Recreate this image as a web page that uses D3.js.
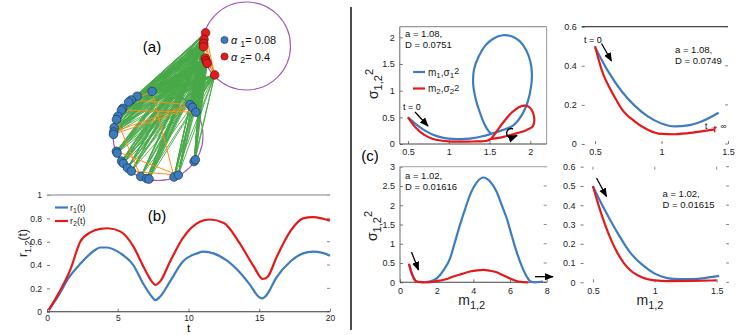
<!DOCTYPE html>
<html><head><meta charset="utf-8">
<script src="https://cdn.jsdelivr.net/npm/d3@7"></script>
<style>
body{margin:0;background:#fff;}
svg{display:block;font-family:"Liberation Sans",Arial,sans-serif;}
</style></head>
<body><svg id="c" width="747" height="335"></svg>
<script>
// ---------------- DATA ----------------
// (a) network: node angles (deg) on their circles
const blueAngles = [-97.7,-118,-127,-131.3,-142.4,-145.2,-154.4,-159,-169.8,-175.5,-178.5,159.2,156.6,144.9,141.3,133.3,126.8,112.8,104.7,101.7,68.9,62.8,35.8,33,-43.9,-39.2,-31.6];
const redAngles = [-162.2,-171.2,-176.5,179,163.5,159.7,156.2,137.7];
const orangeBlueEdges = [[0,20],[10,25],[5,26],[3,0],[7,17],[9,24],[11,21],[14,19],[16,21],[2,24],[6,1]];
const orangeRedEdges = [[0,7],[1,7],[2,7],[4,7],[3,6],[5,7]];
const legendA = ["0.08","0.4"];

// (b) order parameters
const tR1 = [0.12,0.82,1.53,2.35,3.3,3.76,4.2,5.2,6.1,6.8,7.4,7.65,8.0,8.7,9.6,10.6,11.06,11.76,12.7,13.6,14.35,14.94,15.2,15.5,16.2,17.2,18.1,18.8,19.4,20];
const r1 = [0.014,0.14,0.29,0.41,0.52,0.55,0.55,0.5,0.4,0.24,0.13,0.1,0.13,0.26,0.43,0.5,0.514,0.5,0.44,0.34,0.23,0.13,0.114,0.14,0.29,0.43,0.5,0.514,0.506,0.48];
const tR2 = [0.12,0.82,1.65,2.35,3.06,3.76,4.3,5.2,6.1,6.8,7.4,7.65,8.0,8.7,9.6,10.8,11.5,12.5,13.6,14.6,15.25,15.6,16.2,17.2,18.1,18.8,19.4,20];
const r2 = [0.014,0.157,0.36,0.6,0.68,0.71,0.715,0.686,0.56,0.39,0.26,0.23,0.26,0.43,0.63,0.77,0.79,0.76,0.59,0.39,0.28,0.3,0.46,0.69,0.8,0.81,0.8,0.78];
const bXTicks = [0,5,10,15,20];
const bYTicks = [0,0.2,0.4,0.6,0.8,1];

// (c1) a=1.08, D=0.0751
const c1m1 = [0.5,0.6,0.7,0.8,0.9,1.0,1.1,1.2,1.3,1.4,1.5,1.6,1.7,1.8,1.9,1.97,2.01,2.02,2.0,1.95,1.87,1.77,1.66,1.55,1.45,1.37,1.31,1.3,1.33,1.38,1.43,1.48,1.52];
const c1s1 = [0.5,0.37,0.26,0.18,0.13,0.1,0.09,0.095,0.11,0.14,0.18,0.23,0.28,0.36,0.55,0.8,1.08,1.32,1.55,1.76,1.93,2.02,2.04,1.98,1.85,1.65,1.4,1.12,0.85,0.6,0.4,0.26,0.19];
const c1m2 = [0.5,0.6,0.7,0.8,0.9,1.0,1.1,1.2,1.3,1.4,1.47,1.52,1.58,1.66,1.78,1.86,1.92,1.98,2.03,2.05,2.03,1.95,1.83,1.66,1.5];
const c1s2 = [0.5,0.3,0.17,0.1,0.065,0.05,0.045,0.045,0.047,0.05,0.06,0.1,0.22,0.39,0.6,0.69,0.72,0.7,0.6,0.45,0.33,0.26,0.2,0.13,0.09];
// (c2) a=1.08, D=0.0749
const c2m1 = [0.5,0.6,0.7,0.8,0.9,1.0,1.1,1.2,1.3,1.43];
const c2s1 = [0.495,0.37,0.27,0.195,0.14,0.105,0.09,0.095,0.115,0.16];
const c2m2 = [0.5,0.56,0.6,0.66,0.7,0.8,0.9,1.0,1.1,1.2,1.3,1.4];
const c2s2 = [0.5,0.36,0.3,0.225,0.18,0.115,0.072,0.052,0.05,0.056,0.065,0.075];
// (c3) a=1.02, D=0.01616
const c3m1 = [0.49,0.6,0.75,0.91,1.2,1.6,2.0,2.4,2.73,3.0,3.27,3.55,3.82,4.2,4.55,4.9,5.27,5.55,5.82,6.1,6.36,6.64,6.91,7.1,7.4,7.8];
const c3s1 = [0.475,0.3,0.12,0.02,0.0,0.02,0.1,0.33,0.62,1.05,1.49,1.9,2.27,2.6,2.72,2.62,2.35,2.0,1.66,1.2,0.79,0.42,0.15,0.03,0.0,0.02];
const c3m2 = [0.49,0.6,0.75,0.95,1.5,2.0,2.5,2.91,3.4,3.82,4.2,4.55,4.9,5.27,5.6,6.0,6.3,6.55,7.0];
const c3s2 = [0.48,0.28,0.1,0.01,0.0,0.03,0.08,0.15,0.22,0.28,0.31,0.32,0.3,0.26,0.19,0.1,0.04,0.01,0.0];
// (c4) a=1.02, D=0.01615
const c4m1 = [0.5,0.6,0.7,0.8,0.9,1.0,1.1,1.2,1.3,1.4,1.52];
const c4s1 = [0.496,0.37,0.255,0.155,0.09,0.045,0.022,0.016,0.017,0.022,0.033];
const c4m2 = [0.5,0.55,0.6,0.65,0.7,0.75,0.8,0.9,1.0,1.1,1.3,1.5];
const c4s2 = [0.5,0.39,0.295,0.215,0.15,0.1,0.064,0.025,0.01,0.006,0.007,0.01];

// ---------------- DRAW ----------------
const BLUE="#3b7dc0", RED="#e4191b", GREEN="#47a847", ORANGE="#ff8c1a", PURPLE="#a057b5";
const FONT="Liberation Sans, Arial, sans-serif";
const svg = d3.select("#c");
const defs = svg.append("defs");
defs.append("marker").attr("id","ah").attr("viewBox","0 0 10 10").attr("refX",9).attr("refY",5)
  .attr("markerWidth",7).attr("markerHeight",7).attr("orient","auto")
  .append("path").attr("d","M0,1 L10,5 L0,9 z").attr("fill","#000");

// separator
svg.append("line").attr("x1",351).attr("x2",351).attr("y1",7).attr("y2",330).attr("stroke","#000").attr("stroke-width",1.4);

// ---- (a) network ----
const lowC = {cx:158, cy:135.5, r:45};
const upC = {cx:246.5, cy:46, r:44};
const toRad = d3.scaleLinear().domain([0,180]).range([0,Math.PI]);
const pos = (c,a,dr) => [c.cx + (c.r+dr)*Math.cos(toRad(a)), c.cy + (c.r+dr)*Math.sin(toRad(a))];
const bluePts = blueAngles.map(a=>pos(lowC,a,-0.5));
const redPts = redAngles.map(a=>pos(upC,a,-1));
const ga = svg.append("g");
[lowC,upC].forEach(c=>ga.append("circle").attr("cx",c.cx).attr("cy",c.cy).attr("r",c.r)
  .attr("fill","none").attr("stroke",PURPLE).attr("stroke-width",1.1));
const greenEdges = d3.cross(redPts, bluePts);
ga.append("g").selectAll("line").data(greenEdges).join("line")
  .attr("x1",d=>d[0][0]).attr("y1",d=>d[0][1]).attr("x2",d=>d[1][0]).attr("y2",d=>d[1][1])
  .attr("stroke",GREEN).attr("stroke-width",0.9);
ga.append("g").selectAll("line").data(orangeBlueEdges.map(e=>[bluePts[e[0]],bluePts[e[1]]]).concat(orangeRedEdges.map(e=>[redPts[e[0]],redPts[e[1]]]))).join("line")
  .attr("x1",d=>d[0][0]).attr("y1",d=>d[0][1]).attr("x2",d=>d[1][0]).attr("y2",d=>d[1][1])
  .attr("stroke",ORANGE).attr("stroke-width",1);
ga.append("g").selectAll("circle").data(bluePts).join("circle")
  .attr("cx",d=>d[0]).attr("cy",d=>d[1]).attr("r",4.3).attr("fill","#3a7cbd").attr("stroke","#1d3550").attr("stroke-width",0.7);
ga.append("g").selectAll("circle").data(redPts).join("circle")
  .attr("cx",d=>d[0]).attr("cy",d=>d[1]).attr("r",4.3).attr("fill","#e3191c").attr("stroke","#5a1010").attr("stroke-width",0.7);
// legend (a)
legendA.forEach((v,i)=>{
  const y = 40 + i*16.5;
  ga.append("circle").attr("cx",224.5).attr("cy",y).attr("r",3.6).attr("fill",i?"#e3191c":"#3a7cbd").attr("stroke",i?"#5a1010":"#1d3550").attr("stroke-width",0.6);
  const t = ga.append("text").attr("x",231).attr("y",y+4).attr("font-size",11).attr("fill","#111");
  t.append("tspan").attr("font-style","italic").text("α");
  t.append("tspan").attr("dx",3).attr("dy",2.5).attr("font-size",9).text(i+1);
  t.append("tspan").attr("dy",-2.5).text("= "+v);
});
svg.append("text").attr("x",152).attr("y",52).attr("text-anchor","middle").attr("font-size",15).text("(a)");

// ---- generic axes helper ----
function ticks(g, opts){
  const {x,y,xt,yt,top,right,rightTicks,topTicks,leftLine,bottomLine,fs,pad} = opts;
  const [x0,x1] = x.range(), [y0,y1] = y.range();
  const ax = g.append("g").attr("transform",`translate(0,${y0})`).call(d3.axisBottom(x).tickValues(xt).tickSize(-3).tickPadding(pad||5).tickFormat(d=>d));
  ax.select(".domain").remove();
  ax.selectAll("line").attr("stroke","#777");
  ax.selectAll("text").attr("font-size",fs||9).attr("fill","#222").attr("font-family",FONT);
  const ay = g.append("g").attr("transform",`translate(${x0},0)`).call(d3.axisLeft(y).tickValues(yt).tickSize(-3).tickPadding(5).tickFormat(d=>d));
  ay.select(".domain").remove();
  ay.selectAll("line").attr("stroke","#777");
  ay.selectAll("text").attr("font-size",fs||9).attr("fill","#222").attr("font-family",FONT);
  if(rightTicks) g.append("g").selectAll("line").data(yt).join("line").attr("x1",x1-3).attr("x2",x1).attr("y1",d=>y(d)).attr("y2",d=>y(d)).attr("stroke","#888");
  if(topTicks) g.append("g").selectAll("line").data(xt).join("line").attr("y1",y1).attr("y2",y1+3).attr("x1",d=>x(d)).attr("x2",d=>x(d)).attr("stroke","#888");
  if(leftLine) g.append("line").attr("x1",x0).attr("x2",x0).attr("y1",y0).attr("y2",y1).attr("stroke",leftLine).attr("stroke-width",1);
  if(bottomLine) g.append("line").attr("x1",x0).attr("x2",x1).attr("y1",y0).attr("y2",y0).attr("stroke",bottomLine).attr("stroke-width",1.1);
  if(top) g.append("line").attr("x1",x0).attr("x2",x1).attr("y1",y1).attr("y2",y1).attr("stroke",top).attr("stroke-width",1.3);
  if(right) g.append("line").attr("x1",x1).attr("x2",x1).attr("y1",y0).attr("y2",y1).attr("stroke",right).attr("stroke-width",1);
}
function plotLine(g,x,y,xs,ys,col,cv){
  const p = d3.line().x((d,i)=>x(xs[i])).y((d,i)=>y(ys[i])).curve(cv||d3.curveMonotoneX)(xs);
  g.append("path").attr("d",p).attr("fill","none").attr("stroke",col).attr("stroke-width",2.2).attr("stroke-linejoin","round");
}
function sigmaLabel(g,x,y){
  const t = g.append("text").attr("transform",`translate(${x},${y}) rotate(-90)`).attr("text-anchor","middle").attr("font-size",14).attr("fill","#222");
  t.append("tspan").text("σ");
  t.append("tspan").attr("font-size",11).attr("dy",4).text("1,2");
  t.append("tspan").attr("font-size",11).attr("dy",-9).text("2");
}
function mLabel(g,x,y){
  const t = g.append("text").attr("x",x).attr("y",y).attr("text-anchor","middle").attr("font-size",14).attr("fill","#222");
  t.append("tspan").text("m");
  t.append("tspan").attr("font-size",11).attr("dy",4).text("1,2");
}
function arrow(g,x1,y1,x2,y2){
  g.append("line").attr("x1",x1).attr("y1",y1).attr("x2",x2).attr("y2",y2).attr("stroke","#000").attr("stroke-width",1.3).attr("marker-end","url(#ah)");
}
function note(g,x,y,lines,fs){
  lines.forEach((s,i)=>g.append("text").attr("x",x).attr("y",y+i*11).attr("font-size",fs||9.5).attr("fill","#111").text(s));
}

// ---- (b) ----
const gb = svg.append("g");
const xb = d3.scaleLinear().domain([0,20]).range([47,330]);
const yb = d3.scaleLinear().domain([0,1]).range([311.7,195]);
ticks(gb,{x:xb,y:yb,xt:bXTicks,yt:bYTicks,top:"#aaa",bottomLine:"#333",rightTicks:true,fs:8.5,pad:3});
plotLine(gb,xb,yb,tR1,r1,BLUE);
plotLine(gb,xb,yb,tR2,r2,RED);
[["1",BLUE,207.5],["2",RED,221]].forEach(([k,c,y])=>{
  gb.append("line").attr("x1",55).attr("x2",68).attr("y1",y).attr("y2",y).attr("stroke",c).attr("stroke-width",2.2);
  const t = gb.append("text").attr("x",70).attr("y",y+3).attr("font-size",9).attr("fill","#222");
  t.append("tspan").text("r"); t.append("tspan").attr("font-size",7).attr("dy",2).text(k); t.append("tspan").attr("dy",-2).text("(t)");
});
gb.append("text").attr("x",157).attr("y",221).attr("text-anchor","middle").attr("font-size",15).text("(b)");
gb.append("text").attr("x",188.5).attr("y",331.5).attr("text-anchor","middle").attr("font-size",11.5).text("t");
{
  const t = gb.append("text").attr("transform","translate(27,243) rotate(-90)").attr("text-anchor","middle").attr("font-size",12).attr("fill","#222");
  t.append("tspan").text("r"); t.append("tspan").attr("font-size",9).attr("dy",4).text("1,2"); t.append("tspan").attr("dy",-4).text("(t)");
}

// ---- (c) ----
svg.append("text").attr("x",370).attr("y",161).attr("text-anchor","middle").attr("font-size",15).text("(c)");

// c1
const g1 = svg.append("g");
const x1 = d3.scaleLinear().domain([0.4,2.2]).range([399.8,546.6]);
const y1 = d3.scaleLinear().domain([0,2.2]).range([144,26.7]);
ticks(g1,{x:x1,y:y1,xt:[0.5,1,1.5,2],yt:[0,0.5,1,1.5,2],leftLine:"#666",bottomLine:"#444",top:"#999",right:"#999"});
plotLine(g1,x1,y1,c1m1,c1s1,BLUE,d3.curveCatmullRom.alpha(0.5));
plotLine(g1,x1,y1,c1m2,c1s2,RED,d3.curveCatmullRom.alpha(0.5));
note(g1,405,37,["a = 1.08,","D = 0.0751"]);
[[BLUE,"1",72],[RED,"2",88.5]].forEach(([c,k,y])=>{
  g1.append("line").attr("x1",413).attr("x2",425).attr("y1",y).attr("y2",y).attr("stroke",c).attr("stroke-width",2.2);
  const t = g1.append("text").attr("x",428).attr("y",y+3.5).attr("font-size",10).attr("fill","#222");
  t.append("tspan").text("m"); t.append("tspan").attr("font-size",8).attr("dy",2).text(k);
  t.append("tspan").attr("dy",-2).text(",σ"); t.append("tspan").attr("font-size",8).attr("dy",2).text(k);
  t.append("tspan").attr("font-size",9).attr("dy",-3.5).text("2");
});
g1.append("text").attr("x",403).attr("y",110).attr("font-size",9).text("t = 0");
arrow(g1,415,112,428,126);
g1.append("path").attr("d","M513,129 A4.5,4.5 0 1 0 512,137.5 L517,135.5").attr("fill","none").attr("stroke","#000").attr("stroke-width",1.4).attr("marker-end","url(#ah)");
sigmaLabel(g1,378,84);

// c2
const g2 = svg.append("g");
const x2 = d3.scaleLinear().domain([0.4,1.5]).range([581.7,728]);
const y2 = d3.scaleLinear().domain([0,0.6]).range([144,26.7]);
ticks(g2,{x:x2,y:y2,xt:[0.5,1,1.5],yt:[0,0.2,0.4,0.6],top:"#444",rightTicks:true});
plotLine(g2,x2,y2,c2m1,c2s1,BLUE);
plotLine(g2,x2,y2,c2m2,c2s2,RED);
g2.append("line").attr("x1",x2(1.4)).attr("x2",x2(1.4)).attr("y1",y2(0.075)-3).attr("y2",y2(0.075)+3).attr("stroke",RED).attr("stroke-width",1.5);
g2.append("text").attr("x",584).attr("y",43).attr("font-size",9).text("t = 0");
arrow(g2,601.5,43.5,611.5,61);
note(g2,675,53,["a = 1.08,","D = 0.0749"]);
g2.append("text").attr("x",705).attr("y",128.5).attr("font-size",8.5).text("t → ∞");

// c3
const g3 = svg.append("g");
const x3 = d3.scaleLinear().domain([0,8]).range([400,546.7]);
const y3 = d3.scaleLinear().domain([0,3]).range([282.3,166.7]);
ticks(g3,{x:x3,y:y3,xt:[0,2,4,6,8],yt:[0,0.5,1,1.5,2,2.5,3],leftLine:"#666",bottomLine:"#444",top:"#b5b5b5",rightTicks:true});
plotLine(g3,x3,y3,c3m1,c3s1,BLUE);
plotLine(g3,x3,y3,c3m2,c3s2,RED);
note(g3,405,179,["a = 1.02,","D = 0.01616"]);
arrow(g3,411.5,252,418.5,270);
arrow(g3,535,276.7,553,276.7);
sigmaLabel(g3,377,226);
mLabel(g3,471.7,305);

// c4
const g4 = svg.append("g");
const x4 = d3.scaleLinear().domain([0.4,1.6]).range([580.6,729]);
const y4 = d3.scaleLinear().domain([0,0.6]).range([282.3,166.7]);
ticks(g4,{x:x4,y:y4,xt:[0.5,1,1.5],yt:[0,0.1,0.2,0.3,0.4,0.5,0.6],rightTicks:true,topTicks:true});
plotLine(g4,x4,y4,c4m1,c4s1,BLUE);
plotLine(g4,x4,y4,c4m2,c4s2,RED);
arrow(g4,596.5,178,606.5,196.5);
note(g4,662.5,197,["a = 1.02,","D = 0.01615"]);
mLabel(g4,650,305);
</script></body></html>
